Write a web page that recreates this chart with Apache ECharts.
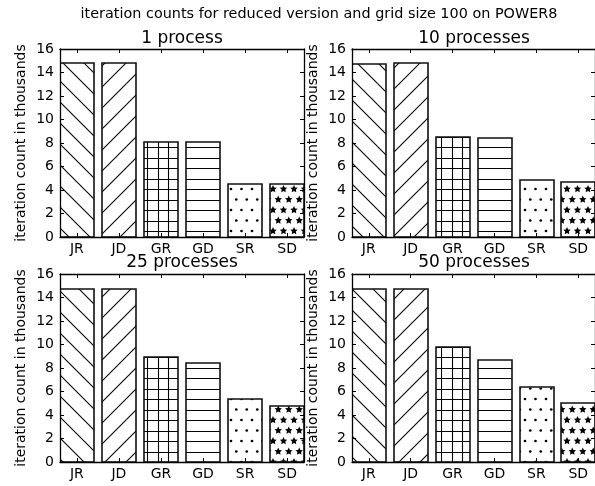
<!DOCTYPE html>
<html><head><meta charset="utf-8">
<script src="https://cdn.jsdelivr.net/npm/echarts@6/dist/echarts.min.js"></script>
<style>html,body{margin:0;padding:0;background:#fff;}#c{width:595px;height:486px;}</style>
</head><body><div id="c"></div>
<script>
const suptitle = 'iteration counts for reduced version and grid size 100 on POWER8';
const panelTitles = ['1 process', '10 processes', '25 processes', '50 processes'];
const yLabel = 'iteration count in thousands';
const categories = ['JR', 'JD', 'GR', 'GD', 'SR', 'SD'];
const hatches = ['\\', '/', '+', '-', '.', '*'];
const vals1 = [14.8, 14.8, 8.1, 8.1, 4.5, 4.5];
const vals10 = [14.75, 14.8, 8.5, 8.4, 4.85, 4.7];
const vals25 = [14.75, 14.75, 8.9, 8.4, 5.35, 4.8];
const vals50 = [14.75, 14.75, 9.8, 8.65, 6.35, 5.0];
const yTicks = [0, 2, 4, 6, 8, 10, 12, 14, 16];
const panelValues = [vals1, vals10, vals25, vals50];

const FONT = 'DejaVu Sans';
const BAR_W = 0.8;

function makeHatch(h) {
  const U = 63, n = 6;
  const c = document.createElement('canvas');
  c.width = U; c.height = U;
  const g = c.getContext('2d');
  g.fillStyle = '#fff'; g.fillRect(0, 0, U, U);
  g.strokeStyle = '#000'; g.fillStyle = '#000'; g.lineWidth = 1.1;
  const step = U / n;
  if (h === '-' || h === '+') {
    for (let k = 0; k < n; k++) {
      const y = Math.round(k * step) + 0.5;
      g.beginPath(); g.moveTo(0, y); g.lineTo(U, y); g.stroke();
    }
  }
  if (h === '+') {
    for (let k = 0; k < n; k++) {
      const x = Math.round(k * step) + 0.5;
      g.beginPath(); g.moveTo(x, 0); g.lineTo(x, U); g.stroke();
    }
  }
  if (h === '/') {
    for (let cc = 0; cc <= 2 * U; cc += U / 3) {
      g.beginPath(); g.moveTo(cc + 2, -2); g.lineTo(-2, cc + 2); g.stroke();
    }
  }
  if (h === '\\') {
    for (let cc = -U; cc <= U; cc += U / 3) {
      g.beginPath(); g.moveTo(cc - 2, -2); g.lineTo(cc + U + 2, U + 2); g.stroke();
    }
  }
  if (h === '.' || h === '*') {
    for (let r = 0; r <= n; r++) {
      const y = r * step;
      const off = (r % 2) ? 0.5 : 0;
      for (let k = -1; k <= n + 1; k++) {
        const x = (k + off) * step;
        if (h === '.') {
          g.beginPath(); g.arc(x, y, 1.35, 0, Math.PI * 2); g.fill();
        } else {
          const R = 3.9, r2 = R * 0.5;
          g.beginPath();
          for (let v = 0; v < 10; v++) {
            const a = -Math.PI / 2 + v * Math.PI / 5;
            const rr = (v % 2) ? r2 : R;
            const px = x + rr * Math.cos(a), py = y + rr * Math.sin(a);
            if (v === 0) g.moveTo(px, py); else g.lineTo(px, py);
          }
          g.closePath(); g.fill();
        }
      }
    }
  }
  return c;
}
const patterns = hatches.map(h => ({ image: makeHatch(h), repeat: 'repeat' }));

const grids = [
  { left: 60, top: 49, width: 244, height: 188 },
  { left: 352, top: 49, width: 244, height: 188 },
  { left: 60, top: 274, width: 244, height: 188 },
  { left: 352, top: 274, width: 244, height: 188 }
];
const tickPos = categories.map((_, i) => i + BAR_W / 2);

const xAxes = [], yAxes = [], series = [], graphics = [];
grids.forEach((gr, i) => {
  const common = {
    gridIndex: i, type: 'value', min: 0, max: categories.length - 1 + BAR_W,
    splitLine: { show: false }, z: 5,
    axisLine: { show: true, onZero: false, lineStyle: { color: '#000', width: 1.3 } },
    axisTick: { show: true, inside: true, length: 4, customValues: tickPos, lineStyle: { color: '#000', width: 1 } }
  };
  xAxes.push(Object.assign({}, common, {
    position: 'bottom',
    axisLabel: { show: true, customValues: tickPos, formatter: v => categories[Math.round(v - BAR_W / 2)],
      color: '#000', fontFamily: FONT, fontSize: 14, margin: 5 }
  }));
  xAxes.push(Object.assign({}, common, { position: 'top', axisLabel: { show: false } }));
  const ycommon = {
    gridIndex: i, type: 'value', min: 0, max: 16, interval: 2, z: 5,
    splitLine: { show: false },
    axisLine: { show: true, onZero: false, lineStyle: { color: '#000', width: 1.3 } },
    axisTick: { show: true, inside: true, length: 4, lineStyle: { color: '#000', width: 1 } }
  };
  yAxes.push(Object.assign({}, ycommon, {
    position: 'left',
    axisLabel: { show: true, color: '#000', fontFamily: FONT, fontSize: 14, margin: 6,
      formatter: v => yTicks.includes(v) ? String(v) : '' },
    name: yLabel, nameLocation: 'middle', nameGap: 32, nameRotate: 90,
    nameTextStyle: { color: '#000', fontFamily: FONT, fontSize: 14 }
  }));
  yAxes.push(Object.assign({}, ycommon, { position: 'right', axisLabel: { show: false } }));
  const vals = panelValues[i];
  series.push({
    type: 'custom', xAxisIndex: 2 * i, yAxisIndex: 2 * i, clip: true, z: 2,
    data: vals.map((v, k) => [k, v, k]),
    renderItem: function (params, api) {
      const x = api.value(0), y = api.value(1), k = api.value(2);
      const p0 = api.coord([x, y]);
      const p1 = api.coord([x + BAR_W, 0]);
      return {
        type: 'rect',
        shape: { x: Math.round(p0[0]), y: Math.round(p0[1]), width: Math.round(p1[0] - p0[0]), height: Math.round(p1[1] - p0[1]) },
        style: { fill: patterns[k], stroke: '#111', lineWidth: 1.6 }
      };
    }
  });
  graphics.push({
    type: 'text', x: gr.left + gr.width / 2, y: (i < 2 ? 38.5 : 263),
    style: { text: panelTitles[i], fill: '#000', font: '17px "DejaVu Sans"', align: 'center', verticalAlign: 'middle' }
  });
});
graphics.push({
  type: 'text', x: 319, y: 14,
  style: { text: suptitle, fill: '#000', font: '14.4px "DejaVu Sans"', align: 'center', verticalAlign: 'middle' }
});

const chart = echarts.init(document.getElementById('c'), null, { renderer: 'canvas' });
chart.setOption({
  animation: false,
  backgroundColor: '#fff',
  grid: grids,
  xAxis: xAxes,
  yAxis: yAxes,
  series: series,
  graphic: graphics
});
</script>
</body></html>
